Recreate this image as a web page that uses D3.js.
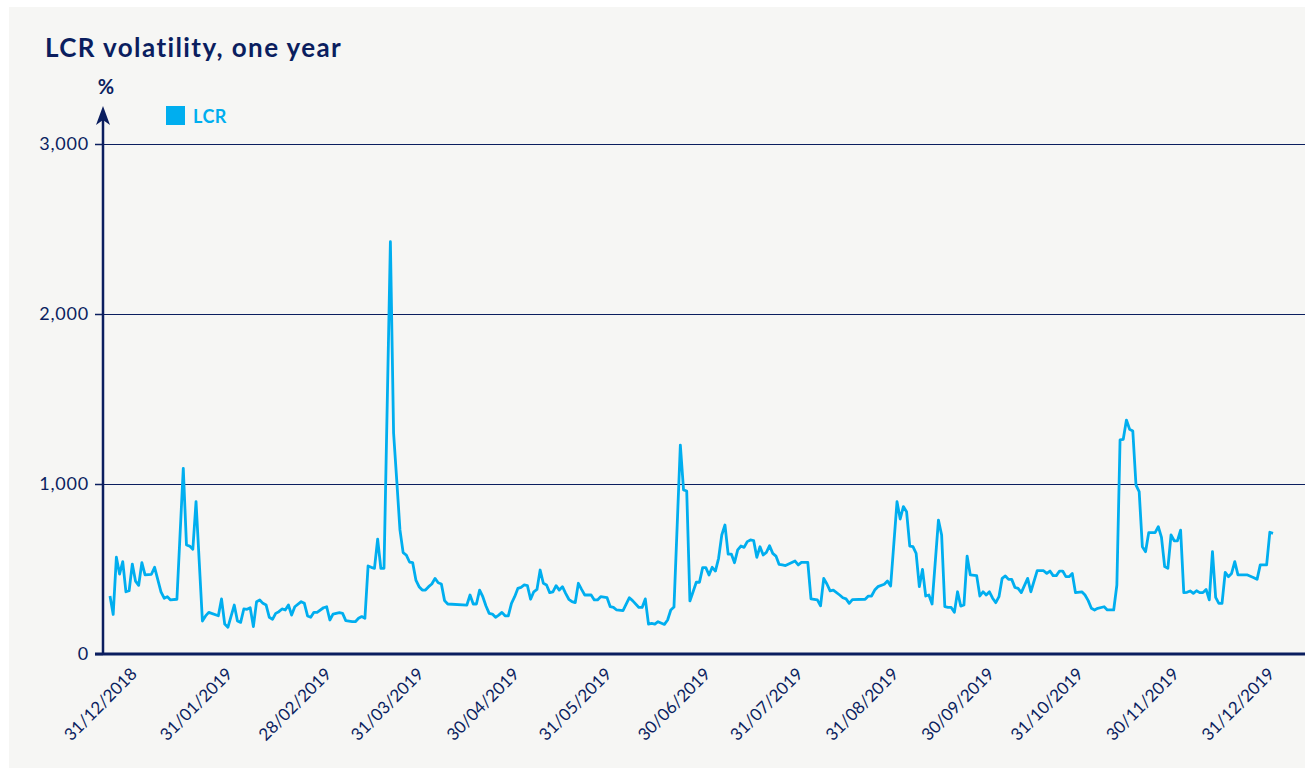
<!DOCTYPE html>
<html lang="en">
<head>
<meta charset="utf-8">
<title>LCR volatility, one year</title>
<script src="https://d3js.org/d3.v7.min.js"></script>
<style>
  html, body { margin: 0; padding: 0; background: #ffffff; }
  #chart { display: block; }
  .title { font-family: Lato, "Open Sans", sans-serif; font-weight: 700; font-size: 26px; letter-spacing: 1.4px; fill: #0b1e5f; }
  .unit { font-family: Lato, sans-serif; font-weight: 700; font-size: 20px; fill: #0b1e5f; }
  .legend-text { font-family: Lato, sans-serif; font-weight: 700; font-size: 18px; letter-spacing: 0.5px; fill: #00aeef; }
  .axis text { font-family: Lato, sans-serif; font-weight: 400; font-size: 17px; fill: #0b1e5f; }
  .y.axis text { font-size: 18px; letter-spacing: 0.8px; }
</style>
</head>
<body>
<svg id="chart" width="1305" height="768"></svg>
<script>
// observation day (0 = first point) and LCR value in %
var days = [0,1,2,3,4,5,6,7,8,9,10,11,13,14,16,17,18,19,21,23,24,25,26,27,29,30,31,34,35,36,37,39,40,41,42,43,44,45,46,47,48,49,50,51,52,53,54,55,56,57,58,
  60,61,62,63,64,65,67,68,69,70,72,73,74,76,77,78,79,80,81,82,83,84,85,86,88,89,90,91,92,93,94,95,96,97,98,99,100,101,102,103,104,105,106,112,113,114,115,116,117,118,119,
  120,121,122,123,124,125,126,127,128,129,130,131,132,133,134,135,136,137,138,139,140,141,142,143,144,145,146,147,148,149,151,152,153,154,156,157,158,159,161,163,164,166,167,168,169,
  170,171,172,174,175,176,177,179,180,181,182,183,184,185,186,187,188,189,190,191,192,193,194,195,196,197,198,199,200,201,202,203,204,205,206,207,208,209,210,211,212,213,215,216,217,219,
  220,222,223,224,225,226,227,229,230,231,232,233,237,238,239,240,241,243,244,245,247,248,249,250,251,252,253,254,255,256,257,258,260,261,262,263,264,265,266,267,268,269,
  270,272,273,274,275,276,277,278,279,280,281,282,283,284,285,286,288,289,291,293,294,295,296,297,298,299,300,301,302,303,305,306,307,308,309,310,312,313,315,316,317,318,319,
  320,321,322,323,324,325,326,328,329,330,331,332,333,334,335,336,337,338,339,340,341,342,343,344,345,346,347,348,349,350,351,352,353,354,357,359,360,361,363,364,365];

var lcr = [341,233,569,470,543,366,372,529,429,404,537,465,469,510,366,328,337,318,322,1092,641,635,616,896,194,224,245,225,324,176,157,288,194,186,265,263,272,161,308,318,298,288,216,204,239,249,265,259,288,229,278,
  308,298,224,216,245,245,272,278,200,235,243,239,196,190,190,210,220,210,518,510,504,676,504,504,2425,1300,1020,730,596,582,541,537,435,396,376,376,396,412,445,419,412,314,294,288,347,294,294,376,337,282,239,
  235,216,229,245,225,224,298,337,386,392,406,402,322,366,380,494,416,406,361,366,402,376,396,357,322,308,302,416,380,347,347,318,318,337,331,278,274,259,255,331,314,274,274,324,176,
  180,176,190,174,200,259,276,1229,965,959,312,366,422,422,508,508,465,510,488,563,700,759,588,588,537,612,635,627,661,671,667,569,631,582,598,637,592,576,527,524,520,529,547,524,539,539,
  324,318,284,445,412,371,376,347,331,324,298,320,322,341,341,376,396,410,429,400,896,794,867,837,635,631,592,396,498,341,347,294,788,700,278,274,274,245,366,282,288,576,
  465,461,341,366,347,366,328,302,337,445,459,439,439,392,386,361,445,366,490,490,474,488,461,461,488,488,455,455,474,361,366,347,314,269,259,269,278,259,259,406,1259,1263,1376,
  1322,1312,994,955,631,602,714,714,749,686,514,504,700,666,666,729,361,363,371,357,372,361,361,380,318,602,333,298,298,480,455,474,543,465,465,449,439,524,524,716,710];

var tickDays = [8, 38, 69, 98, 128, 157, 188, 217, 247, 277, 305, 335, 365];
var tickLabels = ["31/12/2018", "31/01/2019", "28/02/2019", "31/03/2019", "30/04/2019", "31/05/2019",
  "30/06/2019", "31/07/2019", "31/08/2019", "30/09/2019", "31/10/2019", "30/11/2019", "31/12/2019"];
var yTicks = [0, 1000, 2000, 3000];

var navy = "#0b1e5f";
var cyan = "#00aeef";

var svg = d3.select("#chart");

// grey panel
svg.append("rect")
  .attr("x", 9).attr("y", 7)
  .attr("width", 1296).attr("height", 761)
  .attr("fill", "#f6f6f4");

var x = d3.scaleLinear().domain([0, 365]).range([110, 1273]);
var y = d3.scaleLinear().domain([0, 3000]).range([654, 144]);

svg.append("text").attr("class", "title")
  .attr("x", 45).attr("y", 57)
  .text("LCR volatility, one year");

svg.append("text").attr("class", "unit")
  .attr("x", 106).attr("y", 94)
  .attr("text-anchor", "middle")
  .text("%");

// legend
svg.append("rect")
  .attr("x", 166).attr("y", 106)
  .attr("width", 19).attr("height", 19)
  .attr("fill", cyan);
svg.append("text").attr("class", "legend-text")
  .attr("x", 193).attr("y", 123)
  .text("LCR");

// gridlines
svg.append("g")
  .selectAll("line")
  .data(yTicks.filter(function(d) { return d > 0; }))
  .enter()
  .append("line")
  .attr("x1", 103).attr("x2", 1305)
  .attr("y1", function(d) { return y(d) + 0.5; })
  .attr("y2", function(d) { return y(d) + 0.5; })
  .attr("stroke", navy)
  .attr("stroke-width", 1)
  .attr("shape-rendering", "crispEdges");

// y axis
var yAxis = svg.append("g")
  .attr("class", "y axis")
  .attr("transform", "translate(103,0)")
  .call(d3.axisLeft(y).tickValues(yTicks).tickSize(8).tickPadding(6).tickFormat(d3.format(",")));
yAxis.select(".domain").remove();
yAxis.selectAll(".tick line").attr("stroke", navy).attr("stroke-width", 1.5);

svg.append("line")
  .attr("x1", 103).attr("x2", 103)
  .attr("y1", 655).attr("y2", 116)
  .attr("stroke", navy).attr("stroke-width", 2.5);
svg.append("path")
  .attr("d", "M103,106 L110,125 L103,120 L96,125 Z")
  .attr("fill", navy);

// x axis
var xAxis = svg.append("g")
  .attr("class", "x axis")
  .attr("transform", "translate(0,654)")
  .call(d3.axisBottom(x).tickValues(tickDays).tickSize(0)
    .tickFormat(function(d, i) { return tickLabels[i]; }));
xAxis.select(".domain").remove();
xAxis.selectAll(".tick text")
  .attr("text-anchor", "end")
  .attr("x", 0).attr("y", 0).attr("dy", 0)
  .attr("transform", "translate(2,21) rotate(-45)");

svg.append("line")
  .attr("x1", 95).attr("x2", 1305)
  .attr("y1", 654).attr("y2", 654)
  .attr("stroke", navy).attr("stroke-width", 3);

// LCR line
var line = d3.line()
  .x(function(d, i) { return x(days[i]); })
  .y(function(d) { return y(d); });

svg.append("path")
  .datum(lcr)
  .attr("d", line)
  .attr("fill", "none")
  .attr("stroke", cyan)
  .attr("stroke-width", 2.8)
  .attr("stroke-linejoin", "round");
</script>
</body>
</html>
